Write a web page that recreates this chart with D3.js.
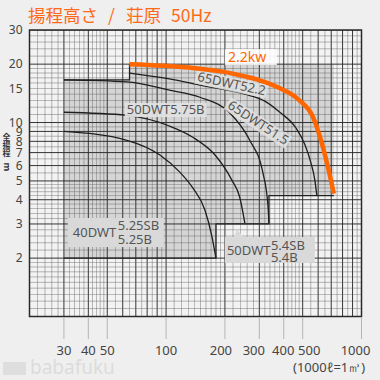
<!DOCTYPE html>
<html><head><meta charset="utf-8">
<script src="https://cdn.jsdelivr.net/npm/d3@7"></script>
<style>
html,body{margin:0;padding:0;background:#efefef;}
svg{display:block;}
</style></head><body>
<svg id="c" width="380" height="380"></svg>
<script>
// ---- data (flow L/min, head m) ----
const xTickVals = [30, 40, 50, 100, 200, 300, 400, 500, 1000];
const yTickVals = [2, 3, 4, 5, 6, 7, 8, 9, 10, 15, 20, 30];
const curve22kw   = [[65,20],[132,19.2],[195,18.3],[253,17.3],[291,16.7],[373,15.2],[478,13.1],[564,10.7],[627,7.8],[673,5.9],[722,4.3]];
const curve65DWT  = [[65,18.0],[104,16.8],[149,15.6],[253,14.0],[320,12.9],[382,11.3],[461,9.4],[513,7.7],[551,6.2],[577,5.05],[591,4.2]];
const curve50DWT75 = [[30,16.6],[63,16.2],[104,14.7],[149,13.5],[212,11.2],[268,8.1],[313,5.5],[332,3.75],[336,3.03]];
const curve50DWT4  = [[30,11.3],[63,10.9],[104,9.6],[137,8.4],[178,6.8],[217,5.05],[238,4.13],[253,3.03]];
const curve40DWT   = [[30,9.0],[63,8.1],[93,6.8],[117.5,5.55],[137,4.6],[158,3.54],[171,2.63],[180,2.0]];
// operating ranges [xMin, xMax, yMin, yMax]
const range40DWT = [30, 180, 2, 9];
const range50DWT = [30, 336, 3, 16.6];
const range65DWT = [65, 722, 4.2, 20];
const title = ["揚程高さ", "/", "荘原", "50Hz"];
const yTitle = ["全", "揚", "程"];

const svg = d3.select("#c");
const x = d3.scaleLog().domain([20, 1000]).range([29.5, 361.5]);
const y = d3.scaleLog().domain([1, 30]).range([316.5, 30]);
const FONT = "'Noto Sans', 'DejaVu Sans', sans-serif";
// small horizontal nudges so crowded x labels stay legible (as in the original)
const xLabelShift = {200: -4, 300: -5.5, 400: -0.5, 500: 6.5, 1000: -6};

svg.append("defs").append("clipPath").attr("id","clip")
  .append("rect").attr("x",x(20)).attr("y",y(30)).attr("width",x(1000)-x(20)).attr("height",y(1)-y(30));

const plot = svg.append("g").attr("clip-path","url(#clip)");
plot.append("rect").attr("x",x(20)).attr("y",y(30)).attr("width",x(1000)-x(20)).attr("height",y(1)-y(30)).attr("fill","#f3f3f3");

// shaded ranges
[range40DWT, range50DWT, range65DWT].forEach(r => {
  plot.append("rect").attr("x",x(r[0])).attr("y",y(r[3]))
    .attr("width",x(r[1])-x(r[0])).attr("height",y(r[2])-y(r[3]))
    .attr("fill","#d5d5d5");
});

// log grid
function gridValues(lo, hi){
  const out = [];
  [1,10,100,1000].forEach(d => {
    const ks = [];
    for (let k=10;k<20;k++) ks.push(k);
    for (let k=20;k<50;k+=2) ks.push(k);
    for (let k=50;k<100;k+=5) ks.push(k);
    ks.forEach(k => { const v = k/10*d; if (v>=lo-1e-9 && v<=hi+1e-9) out.push({v, major: k%10===0}); });
  });
  return out;
}
gridValues(20,1000).forEach(g => {
  plot.append("line").attr("x1",x(g.v)).attr("x2",x(g.v)).attr("y1",y(30)).attr("y2",y(1))
    .attr("stroke", g.major ? "#2a2a2a" : "#5a5a5a").attr("stroke-width", g.major?1:0.7).attr("opacity", g.major?0.95:0.6);
});
gridValues(1,30).forEach(g => {
  plot.append("line").attr("y1",y(g.v)).attr("y2",y(g.v)).attr("x1",x(20)).attr("x2",x(1000))
    .attr("stroke", g.major ? "#2a2a2a" : "#5a5a5a").attr("stroke-width", g.major?1:0.7).attr("opacity", g.major?0.95:0.6);
});

// range outlines
const outline = d3.path();
outline.moveTo(x(range50DWT[0]), y(range50DWT[3]));
outline.lineTo(x(range65DWT[0]), y(range50DWT[3]));
outline.lineTo(x(range65DWT[0]), y(range65DWT[3]));
outline.moveTo(x(range65DWT[1]), y(range65DWT[2]));
outline.lineTo(x(range50DWT[1]), y(range65DWT[2]));
outline.lineTo(x(range50DWT[1]), y(range50DWT[2]));
outline.lineTo(x(range40DWT[1]), y(range50DWT[2]));
outline.lineTo(x(range40DWT[1]), y(range40DWT[2]));
outline.lineTo(x(range40DWT[0]), y(range40DWT[2]));
plot.append("path").attr("d", outline.toString()).attr("fill","none").attr("stroke","#222").attr("stroke-width",1.3);

// frame
svg.append("rect").attr("x",x(20)).attr("y",y(30)).attr("width",x(1000)-x(20)).attr("height",y(1)-y(30))
  .attr("fill","none").attr("stroke","#2a2a2a").attr("stroke-width",1.5);

// curves
const line = d3.line().x(d=>x(d[0])).y(d=>y(d[1])).curve(d3.curveMonotoneX);
[curve65DWT, curve50DWT75, curve50DWT4, curve40DWT].forEach(c => {
  svg.append("path").attr("d", line(c)).attr("fill","none").attr("stroke","#1e1e1e").attr("stroke-width",1.3);
});

// labels on curves
function rotLabel(txt, xv, yv, ang){
  const g = svg.append("g").attr("transform",`translate(${x(xv)},${y(yv)}) rotate(${ang})`);
  g.append("rect").attr("x",-2).attr("y",-11).attr("width",73).attr("height",14).attr("fill","#e4e4e4").attr("opacity",0.8);
  g.append("text").attr("x",0).attr("y",0).text(txt).attr("font-family",FONT).attr("font-size",13).attr("fill","#555");
}
rotLabel("65DWT52.2", 143.6, 16.4, 12);
rotLabel("65DWT51.5", 204.6, 11.95, 33);

svg.append("rect").attr("x",x(62.9)-2).attr("y",y(11.06)-11).attr("width",82).attr("height",14).attr("fill","#e2e2e2").attr("opacity",0.9);
svg.append("text").attr("x",x(62.9)).attr("y",y(11.06)).text("50DWT5.75B").attr("font-family",FONT).attr("font-size",13).attr("fill","#555");

// 40DWT label box
{
  const x0 = x(31.4), y0 = y(3.22), x1 = x(97.3), y1 = y(2.28);
  svg.append("rect").attr("x",x0).attr("y",y0).attr("width",x1-x0).attr("height",y1-y0).attr("fill","#d9d9d9");
  svg.append("text").attr("x",x0+5).attr("y",y0+19).text("40DWT").attr("font-family",FONT).attr("font-size",13).attr("fill","#555");
  svg.append("text").attr("x",x0+50).attr("y",y0+12).text("5.25SB").attr("font-family",FONT).attr("font-size",13).attr("fill","#555");
  svg.append("text").attr("x",x0+50).attr("y",y0+26).text("5.25B").attr("font-family",FONT).attr("font-size",13).attr("fill","#555");
}
// 50DWT label box
{
  const x0 = x(200), y0 = y(2.57), x1 = x(577), y1 = y(1.89);
  svg.append("path").attr("d",`M${x0+12},${y0-8}L${x0+9},${y0+1}L${x0+19},${y0+1}Z`).attr("fill","#d9d9d9");
  svg.append("rect").attr("x",x0).attr("y",y0).attr("width",x1-x0).attr("height",y1-y0).attr("fill","#d9d9d9");
  svg.append("text").attr("x",x0+2).attr("y",y0+18).text("50DWT").attr("font-family",FONT).attr("font-size",13).attr("fill","#555");
  svg.append("text").attr("x",x0+46).attr("y",y0+13).text("5.4SB").attr("font-family",FONT).attr("font-size",13).attr("fill","#555");
  svg.append("text").attr("x",x0+46).attr("y",y0+25.5).text("5.4B").attr("font-family",FONT).attr("font-size",13).attr("fill","#555");
}

// 2.2kw curve + label
svg.append("path").attr("d", line(curve22kw)).attr("fill","none").attr("stroke","#ff6600").attr("stroke-width",4.5);
{
  const x0 = x(200), y0 = y(23.9), x1 = x(368.8), y1 = y(19.8);
  svg.append("rect").attr("x",x0).attr("y",y0).attr("width",x1-x0).attr("height",y1-y0).attr("fill","#ffffff").attr("opacity",0.85);
  svg.append("text").attr("x",x0+3).attr("y",y0+13).text("2.2kw").attr("font-family",FONT).attr("font-size",14).attr("fill","#ff6600");
}

// axes
xTickVals.forEach(v => {
  svg.append("line").attr("x1",x(v)).attr("x2",x(v)).attr("y1",y(1)+1).attr("y2",339).attr("stroke","#b5b5b5").attr("stroke-width",1);
  svg.append("text").attr("x",x(v)+(xLabelShift[v]||0)).attr("y",355).attr("text-anchor","middle").text(v)
    .attr("font-family",FONT).attr("font-size",13).attr("fill","#444");
});
yTickVals.forEach(v => {
  svg.append("text").attr("x",22.5).attr("y",y(v)+4.2).attr("text-anchor","end").text(v)
    .attr("font-family",FONT).attr("font-size",12).attr("fill","#444");
});
yTitle.forEach((ch,i) => {
  svg.append("text").attr("x",6.5).attr("y",140 + i*8).attr("text-anchor","middle").text(ch)
    .attr("font-family","'Noto Sans CJK JP', sans-serif").attr("font-size",8).attr("font-weight","bold").attr("fill","#333");
});
svg.append("text").attr("transform","translate(3.5,167) rotate(90)").attr("text-anchor","middle").text("m")
  .attr("font-family",FONT).attr("font-size",9).attr("font-weight","bold").attr("fill","#333");

svg.append("text").attr("x",293).attr("y",372).text("(1000ℓ=1㎥)")
  .attr("font-family",FONT).attr("font-size",13).attr("fill","#444");

// title
const tt = svg.append("text").attr("y",21.5).attr("font-family","'Noto Sans CJK JP', sans-serif").attr("font-size",17.5).attr("fill","#ff6a1a");
tt.append("tspan").attr("x",28).text(title[0]);
tt.append("tspan").attr("x",108).text(title[1]);
tt.append("tspan").attr("x",126).text(title[2]);
tt.append("tspan").attr("x",171).text(title[3]);

// watermark
svg.append("rect").attr("x",3).attr("y",362).attr("width",23).attr("height",13).attr("fill","#dedede");
svg.append("text").attr("x",30).attr("y",374).text("babafuku").attr("font-family",FONT).attr("font-size",19).attr("fill","#dcdcdc");
</script>
</body></html>
